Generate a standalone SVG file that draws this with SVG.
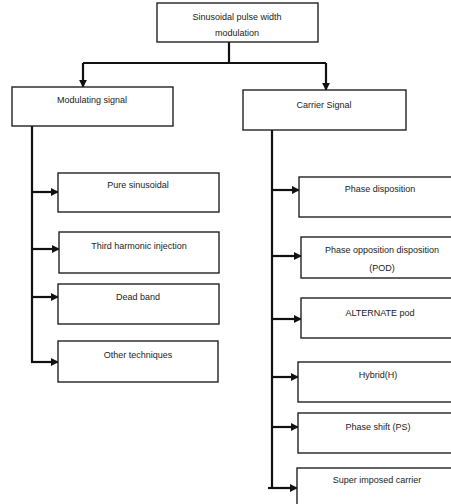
<svg xmlns="http://www.w3.org/2000/svg" width="451" height="504" viewBox="0 0 451 504">
<style>
.box{fill:#fff;stroke:#222;stroke-width:1.4}
.t{font-family:"Liberation Sans",Arial,sans-serif;font-size:9px;fill:#222;text-anchor:middle}
.c{fill:none;stroke:#111;stroke-width:2.2}
</style>
<defs>
<marker id="ah" viewBox="0 0 10 10" refX="9" refY="5" markerWidth="3.6" markerHeight="3.6" orient="auto" markerUnits="strokeWidth">
<path d="M0,0 L10,5 L0,10 z" fill="#111"/>
</marker>
</defs>
<rect width="451" height="504" fill="#fff"/>
<g id="connectors">
<path class="c" d="M229,42 V63"/>
<path class="c" d="M83,63 H326"/>
<path class="c" d="M83,63 V87" marker-end="url(#ah)"/>
<path class="c" d="M326,63 V90" marker-end="url(#ah)"/>
<path class="c" d="M32,126 V362"/>
<path class="c" d="M32,192 H58" marker-end="url(#ah)"/>
<path class="c" d="M32,249 H59" marker-end="url(#ah)"/>
<path class="c" d="M32,297 H58" marker-end="url(#ah)"/>
<path class="c" d="M31,362 H58" marker-end="url(#ah)"/>
<path class="c" d="M272,130 V488"/>
<path class="c" d="M272,190 H299" marker-end="url(#ah)"/>
<path class="c" d="M272,256 H301" marker-end="url(#ah)"/>
<path class="c" d="M272,319 H301" marker-end="url(#ah)"/>
<path class="c" d="M272,377 H298" marker-end="url(#ah)"/>
<path class="c" d="M272,427 H298" marker-end="url(#ah)"/>
<path class="c" d="M268,488 H297" marker-end="url(#ah)"/>
</g>
<g id="root"><rect class="box" x="157" y="3" width="161" height="39"/><text class="t" x="237" y="20">Sinusoidal pulse width</text><text class="t" x="237" y="36">modulation</text></g>
<g id="modulating"><rect class="box" x="12" y="87" width="161" height="39"/><text class="t" x="92" y="103">Modulating signal</text></g>
<g id="carrier"><rect class="box" x="243" y="90" width="163" height="40"/><text class="t" x="324" y="108">Carrier Signal</text></g>
<g id="pure"><rect class="box" x="58" y="173" width="161" height="39"/><text class="t" x="138" y="188">Pure sinusoidal</text></g>
<g id="third"><rect class="box" x="59" y="232" width="160" height="41"/><text class="t" x="139" y="249">Third harmonic injection</text></g>
<g id="dead"><rect class="box" x="58" y="284" width="161" height="40"/><text class="t" x="138" y="300">Dead band</text></g>
<g id="other"><rect class="box" x="58" y="341" width="160" height="41"/><text class="t" x="138" y="358">Other techniques</text></g>
<g id="pd"><rect class="box" x="299" y="177" width="170" height="40"/><text class="t" x="380" y="192">Phase disposition</text></g>
<g id="pod"><rect class="box" x="301" y="237" width="170" height="41"/><text class="t" x="382" y="253">Phase opposition disposition</text><text class="t" x="382" y="271">(POD)</text></g>
<g id="apod"><rect class="box" x="301" y="298" width="170" height="40"/><text class="t" x="380" y="316">ALTERNATE pod</text></g>
<g id="hybrid"><rect class="box" x="298" y="362" width="170" height="40"/><text class="t" x="378" y="378">Hybrid(H)</text></g>
<g id="ps"><rect class="box" x="298" y="413" width="170" height="40"/><text class="t" x="378" y="430">Phase shift (PS)</text></g>
<g id="sic"><rect class="box" x="297" y="468" width="170" height="50"/><text class="t" x="377" y="483">Super imposed carrier</text></g>
</svg>
